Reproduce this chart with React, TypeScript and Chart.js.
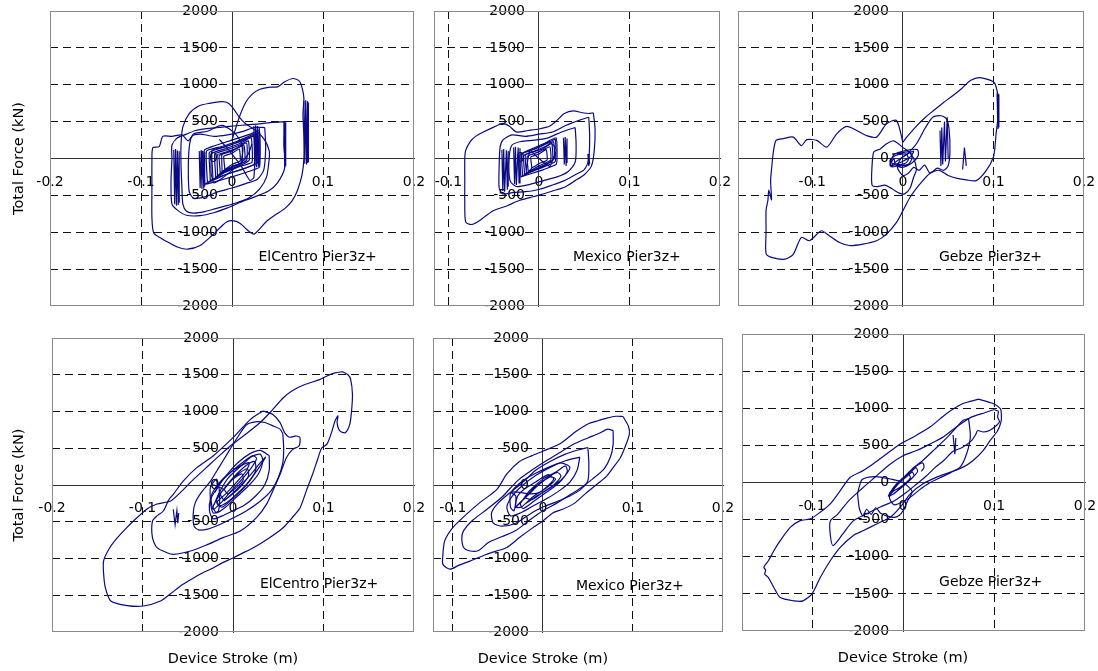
import React, { useEffect, useRef } from "react";
import { Chart, registerables } from "chart.js";

Chart.register(...registerables);

type Pt = [number, number];

// ---------- tick values ----------
const forceTicks = [-2000, -1500, -1000, -500, 0, 500, 1000, 1500, 2000];
const strokeTicksFull = [-0.2, -0.1, 0, 0.1, 0.2];
const strokeTicksCut = [-0.1, 0, 0.1, 0.2];

// ---------- ElCentro, top row ----------
const elcTopOuter: Pt[] = [
  [0.000, 250], [0.008, 560], [0.015, 760], [0.022, 870], [0.030, 935], [0.040, 965], [0.050, 972],
  [0.058, 1040], [0.067, 1085], [0.074, 1050], [0.077, 960], [0.079, 820], [0.078, 600], [0.079, 300],
  [0.079, 0], [0.077, -220], [0.072, -430], [0.066, -575], [0.058, -680], [0.048, -760], [0.038, -850],
  [0.030, -960], [0.024, -1025], [0.016, -960], [0.009, -880], [0.002, -845], [-0.006, -860],
  [-0.014, -950], [-0.022, -1045], [-0.035, -1180], [-0.049, -1230], [-0.060, -1200], [-0.068, -1150],
  [-0.078, -1080], [-0.086, -1010], [-0.088, -800], [-0.088, -400], [-0.088, -50], [-0.087, 145],
  [-0.080, 160], [-0.076, 300], [-0.066, 300], [-0.055, 320], [-0.048, 240], [-0.042, 335],
  [-0.027, 370], [-0.011, 450], [0.004, 330], [0.012, 150], [0.010, -50],
];
const elcTopLoopA: Pt[] = [
  [0.041, 0], [0.041, 100], [0.036, 250], [0.026, 380], [0.015, 470], [0.008, 560], [0.002, 670],
  [-0.004, 750], [-0.011, 770], [-0.025, 748], [-0.036, 715], [-0.047, 610], [-0.054, 430],
  [-0.056, 200], [-0.056, -100], [-0.055, -400], [-0.054, -620], [-0.050, -715], [-0.042, -740],
  [-0.030, -720], [-0.018, -680], [-0.006, -640], [0.005, -600], [0.018, -540], [0.030, -420],
  [0.038, -250], [0.041, 0],
];
const elcTopLoopB: Pt[] = [
  [0.058, 500], [0.057, 200], [0.058, -120], [0.050, -330], [0.040, -440], [0.025, -520],
  [0.010, -590], [-0.005, -670], [-0.020, -735], [-0.035, -775], [-0.050, -770], [-0.060, -700],
  [-0.066, -620], [-0.067, -300], [-0.066, 0], [-0.066, 180], [-0.060, 280], [-0.050, 330],
  [-0.040, 380], [-0.028, 405], [-0.015, 420], [0.000, 440], [0.015, 455], [0.030, 470],
  [0.045, 490], [0.058, 500],
];
const elcTopLoopC: Pt[] = [
  [0.036, 420], [0.037, 150], [0.035, -150], [0.028, -280], [0.015, -340], [0.000, -400],
  [-0.015, -450], [-0.030, -520], [-0.042, -540], [-0.047, -450], [-0.048, -150], [-0.047, 150],
  [-0.044, 300], [-0.035, 330], [-0.020, 300], [-0.005, 320], [0.010, 360], [0.025, 420], [0.036, 420],
];
const elcTopCore: Pt[] = [
  [-0.030, -350], [-0.031, 0], [-0.030, 120], [-0.020, 170], [0.000, 250], [0.020, 330], [0.030, 380],
  [0.031, 100], [0.030, -120], [0.020, -170], [0.000, -250], [-0.020, -320], [-0.030, -350],
  [-0.024, -300], [-0.025, 80], [-0.015, 130], [0.000, 190], [0.015, 260], [0.024, 300], [0.025, 0],
  [0.024, -80], [0.010, -150], [-0.010, -230], [-0.024, -300], [-0.018, -260], [-0.019, 60],
  [-0.005, 120], [0.010, 190], [0.018, 240], [0.019, -20], [0.010, -90], [-0.005, -160],
  [-0.018, -260], [-0.013, -200], [-0.014, 40], [0.000, 100], [0.013, 180], [0.014, -40],
  [0.000, -110], [-0.013, -200], [-0.008, -150], [-0.009, 30], [0.000, 70], [0.008, 130],
  [0.009, -30], [0.000, -80], [-0.008, -150],
];
const elcTopCoreB: Pt[] = [
  [-0.027, -330], [-0.028, 100], [-0.012, 160], [0.005, 230], [0.022, 320], [0.028, 340], [0.028, -60],
  [0.015, -130], [-0.005, -210], [-0.027, -330], [-0.021, -290], [-0.022, 70], [-0.008, 130],
  [0.008, 200], [0.021, 280], [0.022, -50], [0.008, -110], [-0.008, -190], [-0.021, -290],
  [-0.016, -240], [-0.016, 50], [0.000, 110], [0.016, 210], [0.016, -30], [0.000, -120],
  [-0.016, -240], [-0.011, -180], [-0.011, 60], [0.004, 130], [0.011, 170], [0.011, -50],
  [0.002, -100], [-0.011, -180],
];
const elcTopCoreC: Pt[] = [
  [-0.014, 260], [-0.006, 150], [0.002, 30], [0.010, -100], [0.016, -230], [0.020, -300],
  [0.024, -260], [0.026, 150], [0.027, 330], [0.018, 280], [0.004, 210], [-0.008, 160],
  [-0.022, 110], [-0.023, -200], [-0.020, -330], [-0.010, -260], [0.000, -160], [0.010, -60],
  [0.018, 60], [0.022, 200],
];
const elcTopStripA: Pt[] = [[-0.064, 120], [-0.063, -620], [-0.062, 130], [-0.061, -640], [-0.060, 110], [-0.059, -630], [-0.058, 100], [-0.058, -600]];
const elcTopStripB: Pt[] = [[-0.036, 100], [-0.035, -400], [-0.034, 110], [-0.033, -415], [-0.032, 100], [-0.031, -410], [-0.030, 90], [-0.030, -380]];
const elcTopStripC: Pt[] = [[0.024, 440], [0.025, -100], [0.026, 450], [0.027, -120], [0.028, 440], [0.029, -110], [0.030, 420], [0.030, -90]];
const elcTopStripD: Pt[] = [[0.057, 500], [0.058, -120], [0.059, 490], [0.059, -100]];
const elcTopStripE: Pt[] = [[0.079, 780], [0.080, -70], [0.081, 790], [0.082, -80], [0.083, 780], [0.083, -60], [0.084, 760], [0.084, -50]];

// ---------- Mexico, top row ----------
const mexTopOuter: Pt[] = [
  [0.060, 620], [0.062, 400], [0.061, 100], [0.058, -100], [0.050, -220], [0.040, -300], [0.028, -390],
  [0.015, -440], [0.002, -490], [-0.010, -530], [-0.022, -570], [-0.035, -640], [-0.050, -705],
  [-0.060, -790], [-0.068, -860], [-0.075, -895], [-0.081, -860], [-0.082, -600], [-0.082, -300],
  [-0.082, 0], [-0.081, 110], [-0.076, 230], [-0.070, 300], [-0.062, 355], [-0.050, 425],
  [-0.040, 475], [-0.033, 440], [-0.025, 360], [-0.012, 380], [0.000, 400], [0.012, 440],
  [0.020, 520], [0.028, 610], [0.038, 645], [0.048, 620], [0.055, 610], [0.060, 620],
];
const mexTopLoopA: Pt[] = [
  [0.055, 560], [0.056, 300], [0.055, 0], [0.050, -150], [0.040, -220], [0.028, -300], [0.015, -360],
  [0.000, -420], [-0.015, -450], [-0.028, -460], [-0.040, -480], [-0.044, -400], [-0.044, -100],
  [-0.043, 150], [-0.040, 250], [-0.030, 320], [-0.015, 300], [0.000, 330], [0.015, 360],
  [0.030, 450], [0.045, 520], [0.055, 560],
];
const mexTopLoopB: Pt[] = [
  [0.040, 420], [0.041, 200], [0.040, -50], [0.032, -180], [0.020, -250], [0.005, -300],
  [-0.010, -350], [-0.025, -380], [-0.032, -300], [-0.033, 0], [-0.030, 180], [-0.020, 230],
  [-0.005, 250], [0.010, 280], [0.025, 360], [0.040, 420],
];
const mexTopCore: Pt[] = [
  [-0.020, -250], [-0.021, 50], [-0.010, 120], [0.005, 200], [0.019, 280], [0.020, 50], [0.019, -80],
  [0.005, -150], [-0.010, -210], [-0.020, -250], [-0.016, -220], [-0.017, 40], [-0.005, 100],
  [0.008, 170], [0.016, 230], [0.017, 0], [0.005, -100], [-0.008, -170], [-0.016, -220],
  [-0.012, -180], [-0.013, 30], [0.000, 90], [0.012, 160], [0.013, -20], [0.000, -100],
  [-0.012, -180], [-0.008, -130], [-0.009, 20], [0.000, 60], [0.008, 120], [0.009, -20],
  [0.000, -70], [-0.008, -130],
];
const mexTopCoreB: Pt[] = [
  [-0.018, -240], [-0.019, 60], [-0.004, 130], [0.010, 210], [0.018, 260], [0.018, -40], [0.004, -120],
  [-0.010, -190], [-0.018, -240], [-0.014, -200], [-0.015, 50], [0.002, 120], [0.014, 200],
  [0.015, -30], [0.002, -110], [-0.014, -200], [-0.010, 110], [-0.002, 20], [0.006, -60],
  [0.012, -110], [0.019, 120], [0.012, 230], [0.000, 160], [-0.012, 100],
];
const mexTopStripA: Pt[] = [[-0.041, 120], [-0.040, -440], [-0.039, 130], [-0.038, -450], [-0.036, 110], [-0.035, -420], [-0.034, 100], [-0.034, -380]];
const mexTopStripB: Pt[] = [[-0.028, 150], [-0.027, -350], [-0.026, 160], [-0.025, -360], [-0.023, 150], [-0.022, -330], [-0.021, 140]];
const mexTopStripC: Pt[] = [[0.027, 280], [0.028, -80], [0.029, 290], [0.030, -100], [0.031, 270], [0.031, -60]];
const mexTopStripD: Pt[] = [[0.054, 60], [0.055, -100], [0.055, 60], [0.056, -80]];

// ---------- Gebze, top row ----------
const gebTopOuter: Pt[] = [
  [0.000, 220], [-0.007, 515], [-0.018, 470], [-0.029, 290], [-0.040, 310], [-0.051, 380], [-0.062, 435],
  [-0.073, 335], [-0.084, 155], [-0.095, 245], [-0.106, 255], [-0.112, 175], [-0.121, 290],
  [-0.132, 270], [-0.140, 245], [-0.143, 85], [-0.145, -150], [-0.146, -300], [-0.145, -560],
  [-0.148, -430], [-0.149, -570], [-0.151, -700], [-0.151, -1000], [-0.151, -1290], [-0.145, -1340],
  [-0.130, -1365], [-0.121, -1300], [-0.112, -1070], [-0.103, -1115], [-0.090, -980], [-0.081, -1050],
  [-0.070, -1140], [-0.059, -1180], [-0.044, -1160], [-0.029, -1115], [-0.018, -1025], [-0.007, -866],
  [0.000, -710], [0.008, -525], [0.019, -345], [0.030, -200], [0.040, -160], [0.050, -230],
  [0.060, -270], [0.070, -290], [0.081, -300], [0.092, -165], [0.100, 20], [0.102, 200], [0.103, 340],
  [0.105, 560], [0.105, 830], [0.103, 970], [0.100, 1040], [0.085, 1097], [0.075, 1060], [0.065, 950],
  [0.055, 850], [0.045, 760], [0.035, 660], [0.025, 560], [0.015, 440], [0.005, 300], [0.000, 220],
];
const gebTopLoopA: Pt[] = [
  [0.000, 150], [-0.010, 240], [-0.018, 200], [-0.025, 130], [-0.032, 90], [-0.034, -100], [-0.034, -360],
  [-0.028, -380], [-0.020, -360], [-0.012, -410], [-0.004, -470], [0.002, -480], [0.008, -400],
  [0.012, -250], [0.015, -150], [0.012, 0], [0.006, 100], [0.000, 150],
];
const gebTopLoopB: Pt[] = [
  [0.005, 60], [0.015, 200], [0.025, 420], [0.033, 560], [0.042, 580], [0.048, 540], [0.051, 400],
  [0.052, 100], [0.050, -100], [0.045, -160], [0.038, -130], [0.030, -200], [0.024, -90],
  [0.018, -160], [0.012, -120], [0.006, -200], [0.000, -230], [-0.006, -120], [-0.002, 0], [0.005, 60],
];
const gebTopCore: Pt[] = [
  [-0.012, 60], [0.000, 80], [0.008, 90], [0.010, 0], [0.006, -80], [-0.005, -100], [-0.013, -110],
  [-0.014, -20], [-0.008, 40], [0.004, 60], [0.006, -20], [0.002, -70], [-0.008, -80], [-0.010, 0],
  [-0.014, -100], [-0.005, -20], [0.005, 60], [0.012, 100], [0.008, 20], [-0.004, -60], [-0.014, -100],
  [-0.010, 50], [0.004, 110], [0.016, 120], [0.017, 40], [0.010, -60], [-0.002, -120], [-0.012, -60],
];
const gebTopStripA: Pt[] = [[0.041, 380], [0.042, -100], [0.043, 420], [0.044, -80], [0.046, 500], [0.047, -40], [0.049, 560], [0.050, 0]];
const gebTopStripB: Pt[] = [[0.104, 880], [0.105, 400], [0.106, 870], [0.106, 420]];
const gebTopSpike: Pt[] = [[0.066, -150], [0.068, 150], [0.070, -100]];

// ---------- ElCentro, bottom row ----------
const elcBotOuter: Pt[] = [
  [0.121, 1542], [0.127, 1500], [0.130, 1438], [0.132, 1233], [0.131, 1007], [0.129, 825], [0.124, 712],
  [0.118, 735], [0.115, 848], [0.116, 940], [0.113, 880], [0.109, 720], [0.104, 560], [0.098, 503],
  [0.093, 330], [0.088, 150], [0.081, -80], [0.074, -313], [0.065, -450], [0.055, -585], [0.040, -720],
  [0.022, -857], [0.010, -930], [0.000, -993], [-0.012, -1060], [-0.022, -1129], [-0.036, -1210],
  [-0.047, -1290], [-0.058, -1374], [-0.069, -1480], [-0.080, -1578], [-0.099, -1646], [-0.117, -1640],
  [-0.135, -1578], [-0.141, -1400], [-0.143, -1200], [-0.143, -1034], [-0.137, -870], [-0.128, -721],
  [-0.119, -600], [-0.110, -490], [-0.095, -326], [-0.084, -258], [-0.069, -218], [-0.058, -100],
  [-0.045, 60], [-0.030, 230], [-0.015, 400], [0.000, 560], [0.015, 700], [0.030, 850], [0.042, 1000],
  [0.055, 1180], [0.065, 1280], [0.080, 1370], [0.095, 1430], [0.105, 1490], [0.113, 1525], [0.121, 1542],
];
const elcBotLoopA: Pt[] = [
  [0.033, 1007], [0.044, 960], [0.052, 848], [0.057, 712], [0.062, 650], [0.070, 667], [0.074, 644],
  [0.073, 530], [0.066, 485], [0.059, 372], [0.052, 145], [0.044, -82], [0.037, -263], [0.026, -444],
  [0.008, -626], [-0.011, -716], [-0.030, -820], [-0.047, -898], [-0.066, -943], [-0.073, -921],
  [-0.084, -853], [-0.089, -716], [-0.089, -490], [-0.084, -420], [-0.077, -354], [-0.071, -200],
  [-0.066, -127], [-0.055, 54], [-0.040, 236], [-0.022, 395], [0.000, 644], [0.019, 889], [0.033, 1007],
];
const elcBotLoopB: Pt[] = [
  [0.055, 700], [0.056, 500], [0.055, 300], [0.050, 100], [0.042, -80], [0.030, -220], [0.015, -350],
  [0.000, -450], [-0.015, -540], [-0.028, -600], [-0.038, -610], [-0.043, -560], [-0.044, -400],
  [-0.042, -250], [-0.035, -100], [-0.025, 50], [-0.015, 250], [-0.005, 450], [0.005, 650],
  [0.015, 820], [0.025, 860], [0.035, 850], [0.045, 800], [0.052, 760], [0.055, 700],
];
const elcBotLoopC: Pt[] = [
  [0.040, 400], [0.040, 200], [0.035, 0], [0.025, -150], [0.012, -280], [0.000, -350], [-0.012, -420],
  [-0.022, -460], [-0.026, -350], [-0.025, -200], [-0.018, -50], [-0.008, 120], [0.005, 300],
  [0.018, 420], [0.030, 470], [0.040, 400],
];
const elcBotCore: Pt[] = [
  [-0.022, -300], [-0.015, -100], [-0.005, 100], [0.008, 250], [0.020, 380], [0.030, 420], [0.033, 330],
  [0.028, 150], [0.018, 0], [0.005, -150], [-0.008, -300], [-0.018, -380], [-0.022, -300],
  [-0.018, -200], [-0.008, -20], [0.004, 150], [0.016, 280], [0.024, 320], [0.025, 200], [0.018, 50],
  [0.006, -100], [-0.006, -230], [-0.015, -280], [-0.018, -200], [-0.014, -120], [-0.004, 40],
  [0.008, 170], [0.016, 220], [0.017, 120], [0.010, 0], [0.000, -120], [-0.010, -200], [-0.014, -120],
  [-0.010, -60], [0.000, 80], [0.010, 150], [0.011, 60], [0.003, -40], [-0.006, -120], [-0.010, -60],
  [-0.024, 0], [-0.025, -200], [-0.022, -380], [-0.016, -350], [-0.015, -100], [-0.018, 80], [-0.024, 0],
];
const elcBotCoreB: Pt[] = [
  [-0.020, -100], [-0.012, 60], [0.000, 200], [0.012, 320], [0.022, 400], [0.026, 360], [0.020, 230],
  [0.010, 80], [-0.002, -80], [-0.014, -250], [-0.022, -330], [-0.024, -150], [-0.016, 20],
  [-0.004, 160], [0.010, 270], [0.018, 300], [0.014, 180], [0.004, 40], [-0.008, -120],
  [-0.018, -240], [-0.012, -300], [0.000, -180], [0.012, -40], [0.022, 120], [0.030, 260],
  [0.036, 380], [0.030, 300], [0.018, 120], [0.004, -60], [-0.010, -220],
];
const elcBotSpike: Pt[] = [[-0.066, -330], [-0.064, -540], [-0.062, -350], [-0.061, -520], [-0.060, -380]];

// ---------- Mexico, bottom row ----------
const mexBotOuter: Pt[] = [
  [0.089, 932], [0.095, 800], [0.096, 690], [0.091, 510], [0.086, 370], [0.078, 236], [0.070, 110],
  [0.060, 10], [0.048, -110], [0.035, -250], [0.022, -330], [0.011, -380], [0.000, -490], [-0.011, -580],
  [-0.026, -715], [-0.040, -850], [-0.052, -900], [-0.063, -945], [-0.081, -1035], [-0.093, -1090],
  [-0.103, -1145], [-0.111, -1080], [-0.111, -945], [-0.109, -760], [-0.100, -580], [-0.085, -400],
  [-0.070, -240], [-0.051, -60], [-0.040, 150], [-0.026, 320], [-0.012, 400], [0.000, 460],
  [0.019, 560], [0.037, 730], [0.050, 830], [0.060, 870], [0.071, 910], [0.081, 935], [0.089, 932],
];
const mexBotLoopA: Pt[] = [
  [0.078, 740], [0.078, 550], [0.075, 380], [0.068, 220], [0.055, 80], [0.042, -40], [0.028, -150],
  [0.015, -250], [0.000, -350], [-0.015, -480], [-0.030, -620], [-0.045, -700], [-0.060, -780],
  [-0.072, -895], [-0.082, -895], [-0.088, -850], [-0.090, -720], [-0.088, -620], [-0.078, -480],
  [-0.062, -330], [-0.045, -160], [-0.028, 60], [-0.010, 220], [0.005, 340], [0.020, 450],
  [0.035, 560], [0.050, 640], [0.062, 700], [0.072, 760], [0.078, 740],
];
const mexBotLoopB: Pt[] = [
  [0.050, 510], [0.051, 300], [0.050, 60], [0.042, -60], [0.030, -150], [0.015, -230], [0.000, -300],
  [-0.015, -400], [-0.030, -520], [-0.045, -560], [-0.055, -520], [-0.057, -380], [-0.050, -250],
  [-0.038, -120], [-0.022, 40], [-0.008, 200], [0.008, 320], [0.025, 420], [0.040, 480], [0.050, 510],
];
const mexBotLoopC: Pt[] = [
  [0.041, 380], [0.038, 200], [0.030, 40], [0.018, -80], [0.005, -180], [-0.010, -280], [-0.025, -380],
  [-0.036, -420], [-0.040, -300], [-0.034, -150], [-0.022, 0], [-0.008, 130], [0.008, 240],
  [0.025, 330], [0.041, 380],
];
const mexBotCore: Pt[] = [
  [-0.025, -250], [-0.015, -80], [0.000, 80], [0.015, 180], [0.025, 260], [0.027, 180], [0.018, 30],
  [0.004, -100], [-0.010, -220], [-0.022, -320], [-0.025, -250], [-0.020, -180], [-0.010, -40],
  [0.004, 90], [0.016, 170], [0.020, 120], [0.012, 0], [0.000, -100], [-0.012, -200], [-0.020, -180],
  [-0.030, -300], [-0.028, -150], [-0.020, -50], [-0.008, 40], [0.006, 140], [0.012, 80], [0.002, -50],
  [-0.012, -170], [-0.024, -300], [-0.030, -300], [-0.015, -120], [-0.005, 0], [0.008, 110],
  [0.014, 80], [0.006, -20], [-0.006, -110], [-0.015, -120], [-0.035, -100], [-0.036, -300],
  [-0.032, -350], [-0.030, -150], [-0.035, -100], [-0.022, 60], [-0.008, 160], [0.008, 250],
  [0.020, 300], [0.030, 240], [0.022, 90], [0.008, -40], [-0.008, -160], [-0.020, -260],
];

// ---------- Gebze, bottom row ----------
const gebBotOuter: Pt[] = [
  [0.083, 1122], [0.099, 1063], [0.107, 995], [0.108, 930], [0.108, 840], [0.106, 750], [0.103, 680],
  [0.096, 570], [0.088, 430], [0.077, 297], [0.066, 207], [0.052, 140], [0.037, 72], [0.022, -18],
  [0.008, -153], [-0.003, -333], [-0.014, -468], [-0.029, -558], [-0.044, -650], [-0.055, -716],
  [-0.069, -874], [-0.080, -1054], [-0.091, -1280], [-0.100, -1500], [-0.110, -1594], [-0.120, -1594],
  [-0.135, -1550], [-0.142, -1414], [-0.148, -1280], [-0.152, -1234], [-0.151, -1180], [-0.153, -1140],
  [-0.148, -1054], [-0.142, -920], [-0.135, -784], [-0.124, -604], [-0.113, -513], [-0.102, -490],
  [-0.091, -400], [-0.080, -288], [-0.069, -110], [-0.058, 70], [-0.044, 160], [-0.033, 250],
  [-0.018, 385], [-0.003, 520], [0.011, 610], [0.030, 750], [0.048, 930], [0.066, 1063], [0.083, 1122],
];
const gebBotLoopA: Pt[] = [
  [0.105, 960], [0.104, 880], [0.106, 820], [0.102, 760], [0.095, 700], [0.088, 680], [0.082, 700],
  [0.080, 650], [0.075, 560], [0.065, 470], [0.055, 420], [0.045, 300], [0.035, 200], [0.025, 80],
  [0.015, -20], [0.005, -120], [-0.010, -250], [-0.025, -330], [-0.040, -420], [-0.055, -520],
  [-0.066, -690], [-0.077, -850], [-0.080, -700], [-0.080, -520], [-0.072, -430], [-0.060, -250],
  [-0.045, -80], [-0.030, 80], [-0.015, 240], [0.000, 360], [0.015, 430], [0.030, 520], [0.045, 620],
  [0.060, 760], [0.075, 880], [0.090, 940], [0.100, 980], [0.105, 960],
];
const gebBotLoopB: Pt[] = [
  [0.072, 860], [0.074, 620], [0.070, 390], [0.063, 210], [0.052, 130], [0.040, 60], [0.030, 0],
  [0.020, -80], [0.010, -180], [0.000, -260], [-0.010, -300], [-0.015, -200], [-0.010, -80],
  [0.000, 60], [0.010, 180], [0.022, 300], [0.035, 450], [0.048, 600], [0.060, 760], [0.066, 840],
  [0.072, 860],
];
const gebBotLoopC: Pt[] = [
  [-0.050, -150], [-0.048, -350], [-0.044, -450], [-0.040, -360], [-0.035, -430], [-0.030, -340],
  [-0.025, -410], [-0.018, -450], [-0.010, -470], [-0.004, -440], [0.000, -380], [0.005, -250],
  [0.010, -120], [0.000, 0], [-0.015, 50], [-0.030, 80], [-0.045, 40], [-0.050, -150],
];
const gebBotCore: Pt[] = [
  [-0.015, -150], [-0.008, -50], [0.000, 50], [0.008, 130], [0.014, 200], [0.016, 150], [0.010, 60],
  [0.002, -30], [-0.006, -110], [-0.013, -170], [-0.015, -150], [-0.012, -100], [-0.004, 0],
  [0.004, 80], [0.010, 140], [0.012, 90], [0.005, 10], [-0.004, -70], [-0.011, -120], [-0.016, -180],
  [-0.010, -60], [-0.002, 40], [0.006, 110], [0.008, 60], [0.000, -40], [-0.010, -150], [-0.016, -180],
  [0.010, 180], [0.018, 250], [0.022, 260], [0.023, 200], [0.020, 150],
];
const gebBotSpike: Pt[] = [[0.055, 640], [0.057, 380], [0.058, 600]];

// ---------- panel layout & style ----------
const FONT = '"DejaVu Sans", "Noto Sans", sans-serif';
const LINE_COLOR = "#0a0a85";

type Box = { l: number; r: number; t: number; b: number };
type PanelCfg = {
  label: string;
  loops: Pt[][];
  cores: Pt[][];
  strips: Pt[][];
  box: Box;
  xMin: number;
  xMax: number;
  xTicks: number[];
  note: Pt;
  yTitle: boolean;
  xTitle: boolean;
};

const panels: PanelCfg[] = [
  {
    label: "ElCentro Pier3z+",
    loops: [elcTopOuter, elcTopLoopA, elcTopLoopB, elcTopLoopC],
    cores: [elcTopCore, elcTopCoreB, elcTopCoreC],
    strips: [elcTopStripA, elcTopStripB, elcTopStripC, elcTopStripD, elcTopStripE],
    box: { l: 50, r: 414, t: 11, b: 306 }, xMin: -0.2, xMax: 0.2, xTicks: strokeTicksFull,
    note: [0.029, -1346], yTitle: true, xTitle: false,
  },
  {
    label: "Mexico Pier3z+",
    loops: [mexTopOuter, mexTopLoopA, mexTopLoopB],
    cores: [mexTopCore, mexTopCoreB],
    strips: [mexTopStripA, mexTopStripB, mexTopStripC, mexTopStripD],
    box: { l: 434, r: 720, t: 11, b: 306 }, xMin: -0.116, xMax: 0.2, xTicks: strokeTicksCut,
    note: [0.0376, -1346], yTitle: false, xTitle: false,
  },
  {
    label: "Gebze Pier3z+",
    loops: [gebTopOuter, gebTopLoopA, gebTopLoopB, gebTopCore],
    cores: [],
    strips: [gebTopStripA, gebTopStripB, gebTopSpike],
    box: { l: 738, r: 1084, t: 11, b: 306 }, xMin: -0.182, xMax: 0.2, xTicks: strokeTicksCut,
    note: [0.0398, -1346], yTitle: false, xTitle: false,
  },
  {
    label: "ElCentro Pier3z+",
    loops: [elcBotOuter, elcBotLoopA, elcBotLoopB, elcBotLoopC, elcBotCore, elcBotCoreB],
    cores: [],
    strips: [elcBotSpike],
    box: { l: 52, r: 414, t: 338, b: 632 }, xMin: -0.2, xMax: 0.2, xTicks: strokeTicksFull,
    note: [0.0297, -1346], yTitle: true, xTitle: true,
  },
  {
    label: "Mexico Pier3z+",
    loops: [mexBotOuter, mexBotLoopA, mexBotLoopB, mexBotLoopC, mexBotCore],
    cores: [],
    strips: [],
    box: { l: 433, r: 723, t: 338, b: 632 }, xMin: -0.122, xMax: 0.2, xTicks: strokeTicksCut,
    note: [0.0367, -1373], yTitle: false, xTitle: true,
  },
  {
    label: "Gebze Pier3z+",
    loops: [gebBotOuter, gebBotLoopA, gebBotLoopB, gebBotLoopC, gebBotCore],
    cores: [],
    strips: [gebBotSpike],
    box: { l: 742, r: 1085, t: 334, b: 631 }, xMin: -0.177, xMax: 0.2, xTicks: strokeTicksCut,
    note: [0.0396, -1350], yTitle: false, xTitle: true,
  },
];

function geometry(cfg: PanelCfg) {
  const padL = cfg.yTitle ? cfg.box.l : 34;
  const padR = 34;
  const padT = cfg.box.t < 20 ? cfg.box.t : 20;
  const padB = cfg.xTitle ? 671 - cfg.box.b : 22;
  return {
    padL, padR, padT, padB,
    left: cfg.box.l - padL,
    top: cfg.box.t - padT,
    width: cfg.box.r - cfg.box.l + padL + padR,
    height: cfg.box.b - cfg.box.t + padT + padB,
  };
}

const fmtStroke = (v: number) => (Math.abs(v) < 1e-9 ? "0" : v.toFixed(1));

function Panel({ cfg }: { cfg: PanelCfg }) {
  const ref = useRef<HTMLCanvasElement | null>(null);
  const g = geometry(cfg);

  useEffect(() => {
    if (!ref.current) return;
    const pxPerUnit = (cfg.box.r - cfg.box.l) / (cfg.xMax - cfg.xMin);
    const labelShift = 14 / pxPerUnit;
    const isEdgeX = (v: number) => Math.abs(v - cfg.xMin) < 1e-9 || Math.abs(v - cfg.xMax) < 1e-9;
    const isEdgeY = (v: number) => Math.abs(Math.abs(v) - 2000) < 1e-9;
    const tickFont = { family: FONT, size: 14 };

    const decor = {
      id: "decor",
      afterDraw(chart: any) {
        const { ctx, chartArea: a, scales } = chart;
        ctx.save();
        ctx.strokeStyle = "#8a8a8a";
        ctx.lineWidth = 1;
        ctx.setLineDash([]);
        ctx.strokeRect(a.left + 0.5, a.top + 0.5, a.right - a.left - 1, a.bottom - a.top - 1);
        ctx.fillStyle = "#000";
        ctx.font = `14px ${FONT}`;
        ctx.textAlign = "left";
        ctx.textBaseline = "middle";
        ctx.fillText(cfg.label, scales.x.getPixelForValue(cfg.note[0]), scales.y.getPixelForValue(cfg.note[1]));
        ctx.font = `14.5px ${FONT}`;
        ctx.textAlign = "center";
        if (cfg.yTitle) {
          ctx.save();
          ctx.translate(19 - g.left, scales.y.getPixelForValue(0));
          ctx.rotate(-Math.PI / 2);
          ctx.fillText("Total Force (kN)", 0, 0);
          ctx.restore();
        }
        if (cfg.xTitle) {
          ctx.fillText("Device Stroke (m)", scales.x.getPixelForValue(0), a.bottom + 27);
        }
        ctx.restore();
      },
    };

    const toXY = (p: Pt[]) => p.map(([x, y]) => ({ x, y }));
    const mk = (p: Pt[], tension: number) => ({
      data: toXY(p), showLine: true, pointRadius: 0, borderColor: LINE_COLOR, borderWidth: 1.2,
      tension, xAxisID: "x", yAxisID: "y",
    });
    const datasets = [
      ...cfg.loops.map((p) => mk(p, 0.25)),
      ...cfg.cores.map((p) => mk(p, 0.12)),
      ...cfg.strips.map((p) => mk(p, 0)),
    ];

    const chart = new Chart(ref.current, {
      type: "scatter",
      data: { datasets },
      options: {
        responsive: false,
        animation: false,
        events: [],
        layout: { padding: { left: g.padL, right: g.padR, top: g.padT, bottom: g.padB } },
        plugins: { legend: { display: false }, tooltip: { enabled: false } },
        scales: {
          x: {
            type: "linear", axis: "x", min: cfg.xMin, max: cfg.xMax, position: { y: 0 },
            afterBuildTicks: (s: any) => { s.ticks = cfg.xTicks.map((v) => ({ value: v })); },
            ticks: { font: tickFont, color: "#000", padding: 15, autoSkip: false, maxRotation: 0,
              callback: (v: any) => fmtStroke(Number(v)) },
            grid: { drawTicks: false, lineWidth: 1,
              color: (c: any) => (c.tick && isEdgeX(c.tick.value) ? "rgba(0,0,0,0)" : "#111") },
            border: { display: true, color: "#333", width: 1, dash: [8, 5] },
          },
          y: {
            type: "linear", axis: "y", min: -2000, max: 2000, position: { x: 0 },
            afterBuildTicks: (s: any) => { s.ticks = forceTicks.map((v) => ({ value: v })); },
            ticks: { display: false },
            grid: { drawTicks: false, lineWidth: 1,
              color: (c: any) => (c.tick && isEdgeY(c.tick.value) ? "rgba(0,0,0,0)" : "#111") },
            border: { display: true, color: "#333", width: 1, dash: [8, 5] },
          },
          yl: {
            type: "linear", axis: "y", min: -2000, max: 2000, position: { x: -labelShift },
            afterBuildTicks: (s: any) => { s.ticks = forceTicks.map((v) => ({ value: v })); },
            ticks: { font: tickFont, color: "#000", autoSkip: false, padding: 0, callback: (v: any) => String(v) },
            grid: { display: false },
            border: { display: false },
          },
        } as any,
      },
      plugins: [decor],
    } as any);
    return () => chart.destroy();
  }, []);

  return (
    <canvas
      ref={ref}
      width={g.width}
      height={g.height}
      style={{ position: "absolute", left: g.left, top: g.top, width: g.width, height: g.height }}
    />
  );
}

export default function App() {
  return (
    <div style={{ position: "fixed", left: 0, top: 0, width: 1098, height: 671, background: "#fff", overflow: "hidden" }}>
      {panels.map((p, i) => (
        <Panel key={i} cfg={p} />
      ))}
    </div>
  );
}
